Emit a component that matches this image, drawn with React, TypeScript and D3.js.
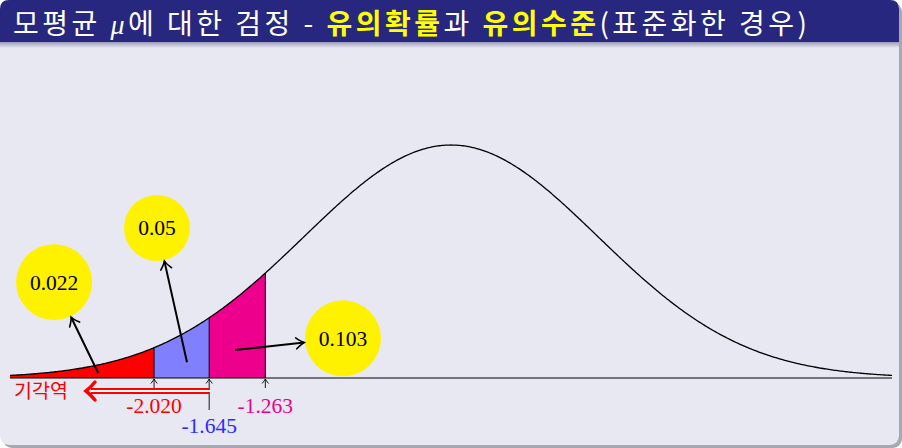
import React from 'react'
import * as d3 from 'd3'

// values
const cutoffs = [-2.02, -1.645, -1.263]          // test statistic, critical value, test statistic
const cutoffLabels = ['-2.020', '-1.645', '-1.263']
const cutoffColors = ['#ff0000', '#2b2bff', '#ec008c']
const regionStarts = [-3, -2.02, -1.645]
const regionEnds = [-2.02, -1.645, -1.263]
const regionColors = ['#ff0000', '#8080ff', '#ec008c']
const probabilities = ['0.022', '0.05', '0.103']
// bubble centre (z, density) and arrow start (z, density)
const bubbleZ = [-2.7, -2.0, -0.735]
const bubbleD = [0.164, 0.257, 0.068]
const bubbleR = [38, 33, 38]
const arrowFromZ = [-2.4, -1.796, -1.47]
const arrowFromD = [0.0086, 0.027, 0.048]

const W = 902
const H = 448
const pdf = (z: number) => Math.exp(-z * z / 2) / Math.sqrt(2 * Math.PI)

export default function App() {
  const x = d3.scaleLinear().domain([-3, 3]).range([10, 892])
  const y = d3.scaleLinear().domain([0, 0.4]).range([378, 378 - 0.4 * 584])
  const y0 = y(0)

  const zs = d3.range(-3, 3.0001, 0.01)
  const line = d3.line<number>().x(z => x(z)).y(z => y(pdf(z)))
  const area = d3.area<number>().x(z => x(z)).y0(y0).y1(z => y(pdf(z)))

  const serif = '"Liberation Serif", "DejaVu Serif", serif'
  const sans = '"Noto Sans CJK KR", "Noto Sans", sans-serif'

  return (
    <svg width={W} height={H} style={{ position: 'absolute', left: 0, top: 0, display: 'block' }}>
      <defs>
        <marker id="ah" viewBox="-10 -7 12 14" markerWidth={12} markerHeight={14} refX={0} refY={0}
          orient="auto" markerUnits="userSpaceOnUse">
          <path d="M-8,-5.5 Q-3,-1.2 0,0 Q-3,1.2 -8,5.5" fill="none" stroke="#000" strokeWidth={1.6}
            strokeLinecap="round" />
        </marker>
        <marker id="ahs" viewBox="-6 -5 8 10" markerWidth={8} markerHeight={10} refX={0} refY={0}
          orient="auto" markerUnits="userSpaceOnUse">
          <path d="M-4.5,-3.2 Q-1.5,-0.7 0,0 Q-1.5,0.7 -4.5,3.2" fill="none" stroke="#000" strokeWidth={0.9} />
        </marker>
        <linearGradient id="shade" x1="0" x2="0" y1="0" y2="1">
          <stop offset="0" stopColor="#9a9ab8" />
          <stop offset="1" stopColor="#e8e8f2" />
        </linearGradient>
      </defs>

      {/* frame */}
      <rect x={0} y={0} width={W} height={H} fill="#ffffff" />
      <rect x={3} y={3} width={W - 3} height={H - 3} rx={9} fill="#a8a8b4" />
      <rect x={0} y={0} width={W - 3} height={H - 3} rx={9} fill="#e8e8f2" />
      <rect x={0} y={42} width={W - 3} height={6} fill="url(#shade)" />
      <path d={`M0,42 V9 Q0,0 9,0 H${W - 12} Q${W - 3},0 ${W - 3},9 V42 Z`} fill="#27277f" />

      <text x={13} y={34} fontFamily={sans} fontSize={28} fill="#ffffff"
        textLength={794} lengthAdjust="spacing">
        <tspan>모평균 </tspan>
        <tspan fontFamily={serif} fontStyle="italic">μ</tspan>
        <tspan>에 대한 검정 - </tspan>
        <tspan fill="#ffff00" fontWeight="bold">유의확률</tspan>
        <tspan>과 </tspan>
        <tspan fill="#ffff00" fontWeight="bold">유의수준</tspan>
        <tspan>(표준화한 경우)</tspan>
      </text>

      {/* shaded regions */}
      {regionStarts.map((s, i) => (
        <path key={'r' + i}
          d={area(d3.range(s, regionEnds[i], 0.005).concat([regionEnds[i]])) || ''}
          fill={regionColors[i]} />
      ))}
      {cutoffs.map((c, i) => (
        <line key={'v' + i} x1={x(c)} x2={x(c)} y1={y0} y2={y(pdf(c))} stroke="#000" strokeWidth={1} />
      ))}

      {/* curve and axis */}
      <path d={line(zs) || ''} fill="none" stroke="#000" strokeWidth={1.3} />
      <line x1={x(-3)} x2={x(3)} y1={y0} y2={y0} stroke="#000" strokeWidth={1.2} />

      {/* tick arrows under the axis */}
      {cutoffs.map((c, i) => (
        <line key={'t' + i} x1={x(c)} x2={x(c)} y1={i === 1 ? y0 + 32 : y0 + 10} y2={y0 + 1}
          stroke="#000" strokeWidth={0.9} markerEnd="url(#ahs)" />
      ))}

      {/* rejection region arrow */}
      <line x1={x(cutoffs[1])} x2={91} y1={391} y2={391} stroke="#ff0000" strokeWidth={6} />
      <line x1={x(cutoffs[1]) + 1} x2={91} y1={391} y2={391} stroke="#ffffff" strokeWidth={2} />
      <path d="M95,382 Q90,388 86,391 Q90,394 95,400" fill="none" stroke="#ff0000" strokeWidth={3.5}
        strokeLinecap="round" />
      <text x={14} y={398} fontFamily={sans} fontSize={19.5} fill="#ff0000">기각역</text>

      {cutoffs.map((c, i) => (
        <text key={'l' + i} x={x(c)} y={i === 1 ? 433 : 413} textAnchor="middle" fontFamily={serif}
          fontSize={21.5} fill={cutoffColors[i]}>{cutoffLabels[i]}</text>
      ))}

      {/* probability bubbles */}
      {probabilities.map((p, i) => {
        const cx = x(bubbleZ[i]), cy = y(bubbleD[i])
        const sx = x(arrowFromZ[i]), sy = y(arrowFromD[i])
        const dx = cx - sx, dy = cy - sy
        const len = Math.hypot(dx, dy)
        const ex = cx - dx / len * (bubbleR[i] + 1)
        const ey = cy - dy / len * (bubbleR[i] + 1)
        return (
          <g key={'b' + i}>
            <circle cx={cx} cy={cy} r={bubbleR[i]} fill="#fff200" />
            <text x={cx} y={cy} dy="0.35em" textAnchor="middle" fontFamily={serif} fontSize={21.5}
              fill="#000">{p}</text>
            <line x1={sx} y1={sy} x2={ex} y2={ey} stroke="#000" strokeWidth={2} markerEnd="url(#ah)" />
          </g>
        )
      })}
    </svg>
  )
}
